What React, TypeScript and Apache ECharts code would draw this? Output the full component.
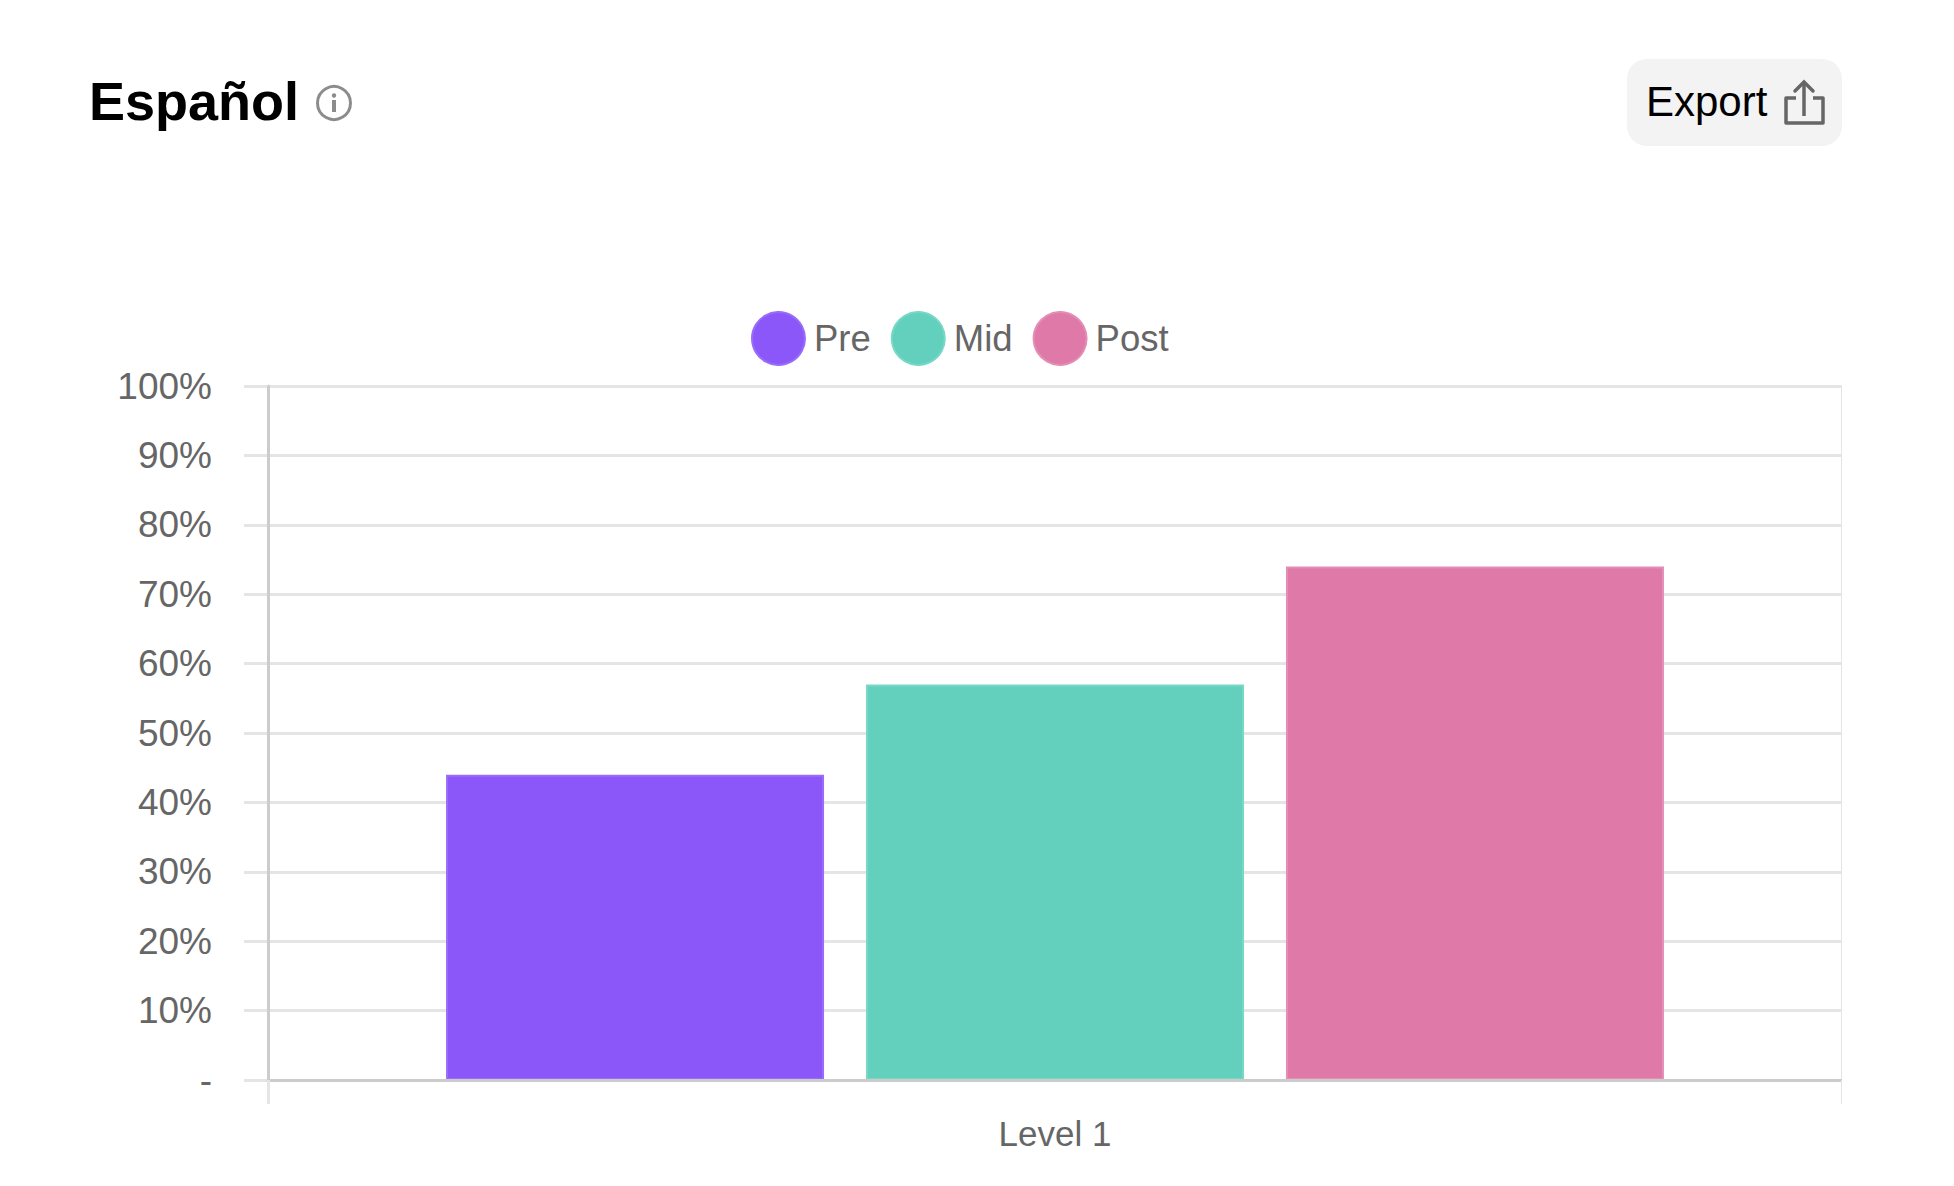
import React, { useEffect, useRef } from "react";
import * as echarts from "echarts";

const categories = ["Level 1"];
const seriesNames = ["Pre", "Mid", "Post"];
const preValues = [44];
const midValues = [57];
const postValues = [74];
const fillColors = ["#8c57f8", "#62d0bc", "#de79a8"];
const borderColors = ["#9a6cfa", "#78d8c6", "#e48eb6"];
const FONT = '"Liberation Sans", Arial, sans-serif';

export default function App() {
  const ref = useRef<HTMLDivElement>(null);
  useEffect(() => {
    document.body.style.margin = "0";
    const chart = echarts.init(ref.current!, undefined, { renderer: "svg" });
    const values = [preValues, midValues, postValues];
    chart.setOption({
      animation: false,
      backgroundColor: "#ffffff",
      textStyle: { fontFamily: FONT },
      title: {
        text: "Español",
        left: 89,
        top: 74,
        padding: 0,
        textStyle: { fontFamily: FONT, fontWeight: "bold", fontSize: 54, color: "#000000" },
      },
      legend: {
        show: true,
        left: 751,
        top: 311,
        padding: 0,
        itemWidth: 53,
        itemHeight: 53,
        itemGap: 20,
        icon: "circle",
        data: seriesNames,
        textStyle: { fontFamily: FONT, fontSize: 36.5, color: "#666666", padding: [0, 0, 5, 4] },
      },
      grid: { left: 268, right: 112, top: 386, bottom: 106, containLabel: false },
      xAxis: {
        type: "category",
        data: categories,
        z: 5,
        axisLine: { show: true, lineStyle: { color: "#cccccc", width: 3 } },
        axisTick: { show: true, length: 24, lineStyle: { color: "#e5e5e5", width: 3 } },
        splitLine: { show: true, lineStyle: { color: ["#cccccc", "#e5e5e5"], width: 3 } },
        axisLabel: { fontFamily: FONT, fontSize: 35, color: "#666666", margin: 36 },
      },
      yAxis: {
        type: "value",
        min: 0,
        max: 100,
        interval: 10,
        axisLine: { show: true, lineStyle: { color: "#cccccc", width: 3 } },
        axisTick: { show: true, length: 24, lineStyle: { color: "#e5e5e5", width: 3 } },
        splitLine: { show: true, lineStyle: { color: "#e5e5e5", width: 3 } },
        axisLabel: {
          fontFamily: FONT,
          fontSize: 37,
          color: "#666666",
          margin: 56,
          padding: [0, 0, 4, 0],
          formatter: (v: number) => (v === 0 ? "-" : `${v}%`),
        },
      },
      series: seriesNames.map((name, i) => ({
        name,
        type: "bar",
        data: values[i],
        barWidth: 378,
        barGap: "11.1%",
        itemStyle: { color: fillColors[i], borderColor: borderColors[i], borderWidth: 2 },
      })),
      graphic: [
        // right edge mask: the outermost grid line is half cut off in the reference
        { type: "rect", z: 50, silent: true, shape: { x: 1842, y: 380, width: 6, height: 730 }, style: { fill: "#ffffff" } },
        // info icon
        { type: "circle", shape: { cx: 334, cy: 103, r: 16.5 }, style: { fill: "none", stroke: "#8c8c8c", lineWidth: 3 } },
        { type: "circle", shape: { cx: 334, cy: 95.5, r: 2.2 }, style: { fill: "#8c8c8c" } },
        { type: "rect", shape: { x: 332, y: 100, width: 4, height: 12 }, style: { fill: "#8c8c8c" } },
        // export button
        { type: "rect", shape: { x: 1627, y: 59, width: 215, height: 87, r: 20 }, style: { fill: "#f3f3f3" } },
        {
          type: "text",
          x: 1646,
          y: 101,
          style: { text: "Export", fontFamily: FONT, fontSize: 42, fill: "#000000", verticalAlign: "middle", textAlign: "left" },
        },
        {
          type: "polyline",
          shape: { points: [[1796, 98], [1786, 98], [1786, 123], [1823, 123], [1823, 98], [1813, 98]] },
          style: { fill: "none", stroke: "#666666", lineWidth: 3.5, lineJoin: "round" },
        },
        { type: "line", shape: { x1: 1804, y1: 83, x2: 1804, y2: 116 }, style: { stroke: "#666666", lineWidth: 3.5 } },
        {
          type: "polyline",
          shape: { points: [[1795, 91], [1804, 82], [1813, 91]] },
          style: { fill: "none", stroke: "#666666", lineWidth: 3.5, lineCap: "round" },
        },
      ],
    });
    return () => chart.dispose();
  }, []);
  return <div ref={ref} style={{ position: "absolute", left: 0, top: 0, width: 1954, height: 1186 }} />;
}
